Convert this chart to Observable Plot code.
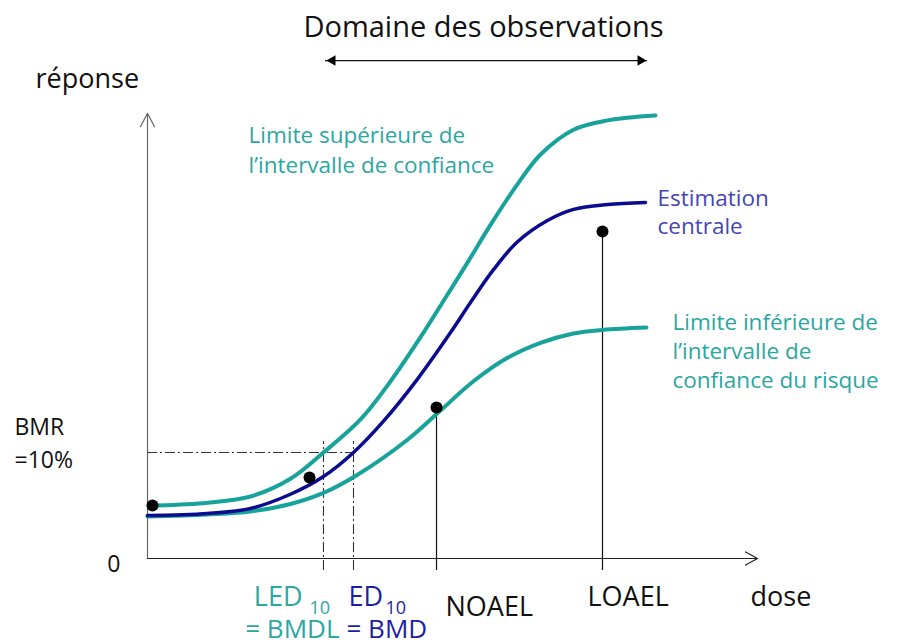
<!DOCTYPE html>
<html><head><meta charset="utf-8">
<script src="https://cdn.jsdelivr.net/npm/d3@7"></script>
<script src="https://cdn.jsdelivr.net/npm/@observablehq/plot@0.6"></script>
<style>body{margin:0;background:#fff;} svg{overflow:visible}</style>
</head><body><div id="chart"></div>
<script>
// ---- data (dose in arbitrary units 0..100, response in % of axis 0..100) ----
const centralDose = [0, 9.84, 16.89, 23.44, 28.85, 33.77, 38.69, 44.26, 49.67, 52.95, 56.72, 60.66, 65.57, 69.84, 75.41, 81.64];
const centralResp = [9.71, 10.16, 11.3, 14.5, 18.5, 23.93, 31.0, 40.5, 51.0, 57.8, 65.2, 71.5, 76.3, 78.8, 79.9, 80.36];
const upperDose = [1.64, 9.84, 16.89, 23.44, 28.85, 34.92, 39.84, 45.25, 48.36, 52.46, 56.23, 60.66, 64.43, 69.84, 75.41, 83.28];
const upperResp = [11.96, 12.6, 14.0, 18.0, 23.93, 31.4, 40.0, 51.0, 57.8, 66.8, 75.3, 84.5, 91.2, 96.8, 98.9, 100.0];
const lowerDose = [0, 9.84, 16.89, 23.44, 28.85, 34.43, 42.62, 48.03, 53.44, 59.02, 64.43, 69.84, 74.59, 81.80];
const lowerResp = [9.48, 9.95, 10.6, 12.3, 14.8, 18.9, 26.8, 33.4, 40.0, 45.3, 48.7, 50.8, 51.6, 52.14];
const obsDose = [0.82, 26.56, 47.38, 74.59];
const obsResp = [11.96, 18.28, 34.09, 73.81];
const bmr = 23.93;
const led10 = 28.85, ed10 = 33.77, noael = 47.38, loael = 74.59;
const obsDomain = [29.18, 81.97];
const obsDomainLevel = 112.4;
const axisMax = {x: 100, y: 100.5};
const tickLow = -2.71;
const bmrTop = 26.41;

// ---- tables built from arrays ----
const central = centralDose.map((d, i) => ({dose: d, resp: centralResp[i]}));
const upper = upperDose.map((d, i) => ({dose: d, resp: upperResp[i]}));
const lower = lowerDose.map((d, i) => ({dose: d, resp: lowerResp[i]}));
const obs = obsDose.map((d, i) => ({dose: d, resp: obsResp[i]}));

const TEAL = "#17a39c", TEALTXT = "#2ba7a2", NAVY = "#0b0b8f", NAVYTXT = "#1d1da0", PURPTXT = "#4545b5";
const DASH = "10,3,2,3";
const F = "Open Sans";
const endC = central[central.length - 1], endU = upper[upper.length - 1], endL = lower[lower.length - 1];

const chart = Plot.plot({
  width: 900, height: 643,
  marginLeft: 147, marginRight: 143, marginTop: 115, marginBottom: 85,
  x: {domain: [0, 100], axis: null},
  y: {domain: [0, 100], axis: null},
  style: {fontFamily: F, background: "#fff", overflow: "visible"},
  marks: [
    // axes
    Plot.arrow([0], {x1: 0, y1: 0, x2: 0, y2: axisMax.y, stroke: "#666", strokeWidth: 1.2, headLength: 19, headAngle: 55}),
    Plot.arrow([0], {x1: 0, y1: 0, x2: axisMax.x, y2: 0, stroke: "#222", strokeWidth: 1.2, headLength: 17, headAngle: 58}),
    // BMR reference lines
    Plot.ruleY([bmr], {x1: 0, x2: ed10, stroke: "#333", strokeWidth: 1.1, strokeDasharray: DASH}),
    Plot.ruleX([led10, ed10], {y1: tickLow, y2: bmrTop, stroke: "#333", strokeWidth: 1.1, strokeDasharray: DASH}),
    // NOAEL / LOAEL stems
    Plot.ruleX(obs.slice(2), {x: "dose", y1: tickLow, y2: "resp", stroke: "#111", strokeWidth: 1.2}),
    // curves
    Plot.line(lower, {x: "dose", y: "resp", stroke: TEAL, strokeWidth: 4, curve: "catmull-rom"}),
    Plot.line(central, {x: "dose", y: "resp", stroke: NAVY, strokeWidth: 3.5, curve: "catmull-rom"}),
    Plot.line(upper, {x: "dose", y: "resp", stroke: TEAL, strokeWidth: 4, curve: "catmull-rom"}),
    // observations
    Plot.dot(obs, {x: "dose", y: "resp", r: 6, fill: "#000"}),
    // domain of observations arrow
    Plot.ruleY([obsDomainLevel], {x1: obsDomain[0], x2: obsDomain[1], stroke: "#111", strokeWidth: 1.3}),
    Plot.dot([obsDomain[1]], {x: d => d, y: obsDomainLevel, symbol: "triangle2", rotate: 90, r: 5, fill: "#000", dx: -7}),
    Plot.dot([obsDomain[0]], {x: d => d, y: obsDomainLevel, symbol: "triangle2", rotate: -90, r: 5, fill: "#000", dx: 7}),
    Plot.text(["Domaine des observations"], {x: (obsDomain[0] + obsDomain[1]) / 2, y: obsDomainLevel, dx: -3, dy: -24, lineAnchor: "bottom", fontSize: 29, fill: "#111"}),
    // axis labels
    Plot.text(["réponse"], {x: 0, y: 100, dx: -112, dy: -28, textAnchor: "start", lineAnchor: "bottom", fontSize: 27, fill: "#111"}),
    Plot.text(["dose"], {x: axisMax.x, y: 0, dx: -7, dy: 47, textAnchor: "start", lineAnchor: "bottom", fontSize: 27, fill: "#111"}),
    Plot.text(["0"], {x: 0, y: 0, dx: -27, dy: 13, textAnchor: "end", lineAnchor: "bottom", fontSize: 23, fill: "#111"}),
    Plot.text(["BMR\n=10%"], {x: 0, y: bmr, dx: -133, dy: 16, textAnchor: "start", lineAnchor: "bottom", lineHeight: 1.45, fontSize: 23, fill: "#111"}),
    // dose labels
    Plot.text(["LED"], {x: led10, y: 0, dx: -21, dy: 47, textAnchor: "end", lineAnchor: "bottom", fontSize: 27, fill: TEALTXT}),
    Plot.text(["10"], {x: led10, y: 0, dx: -14, dy: 55, textAnchor: "start", lineAnchor: "bottom", fontSize: 18, fill: TEALTXT}),
    Plot.text(["= BMDL"], {x: led10, y: 0, dx: 16, dy: 79, textAnchor: "end", lineAnchor: "bottom", fontSize: 26, fill: TEALTXT}),
    Plot.text(["ED"], {x: ed10, y: 0, dx: -5, dy: 47, textAnchor: "start", lineAnchor: "bottom", fontSize: 27, fill: NAVYTXT}),
    Plot.text(["10"], {x: ed10, y: 0, dx: 32, dy: 55, textAnchor: "start", lineAnchor: "bottom", fontSize: 18, fill: NAVYTXT}),
    Plot.text(["= BMD"], {x: ed10, y: 0, dx: -7, dy: 79, textAnchor: "start", lineAnchor: "bottom", fontSize: 26, fill: NAVYTXT}),
    Plot.text(["NOAEL"], {x: noael, y: 0, dx: 9, dy: 57, textAnchor: "start", lineAnchor: "bottom", fontSize: 27, fill: "#111"}),
    Plot.text(["LOAEL"], {x: loael, y: 0, dx: -15, dy: 47, textAnchor: "start", lineAnchor: "bottom", fontSize: 27, fill: "#111"}),
    // curve labels
    Plot.text(["Limite supérieure de\nl’intervalle de confiance"], {x: endU.dose, y: endU.resp, dx: -407, dy: 57, textAnchor: "start", lineAnchor: "bottom", lineHeight: 1.29, fontSize: 22.5, fill: TEALTXT}),
    Plot.text(["Estimation\ncentrale"], {x: endC.dose, y: endC.resp, dx: 12, dy: 31, textAnchor: "start", lineAnchor: "bottom", lineHeight: 1.22, fontSize: 22.5, fill: PURPTXT}),
    Plot.text(["Limite inférieure de\nl’intervalle de\nconfiance du risque"], {x: endL.dose, y: endL.resp, dx: 26, dy: 60, textAnchor: "start", lineAnchor: "bottom", lineHeight: 1.27, fontSize: 22.5, fill: TEALTXT})
  ]
});
document.getElementById("chart").append(chart);
</script>
</body></html>
